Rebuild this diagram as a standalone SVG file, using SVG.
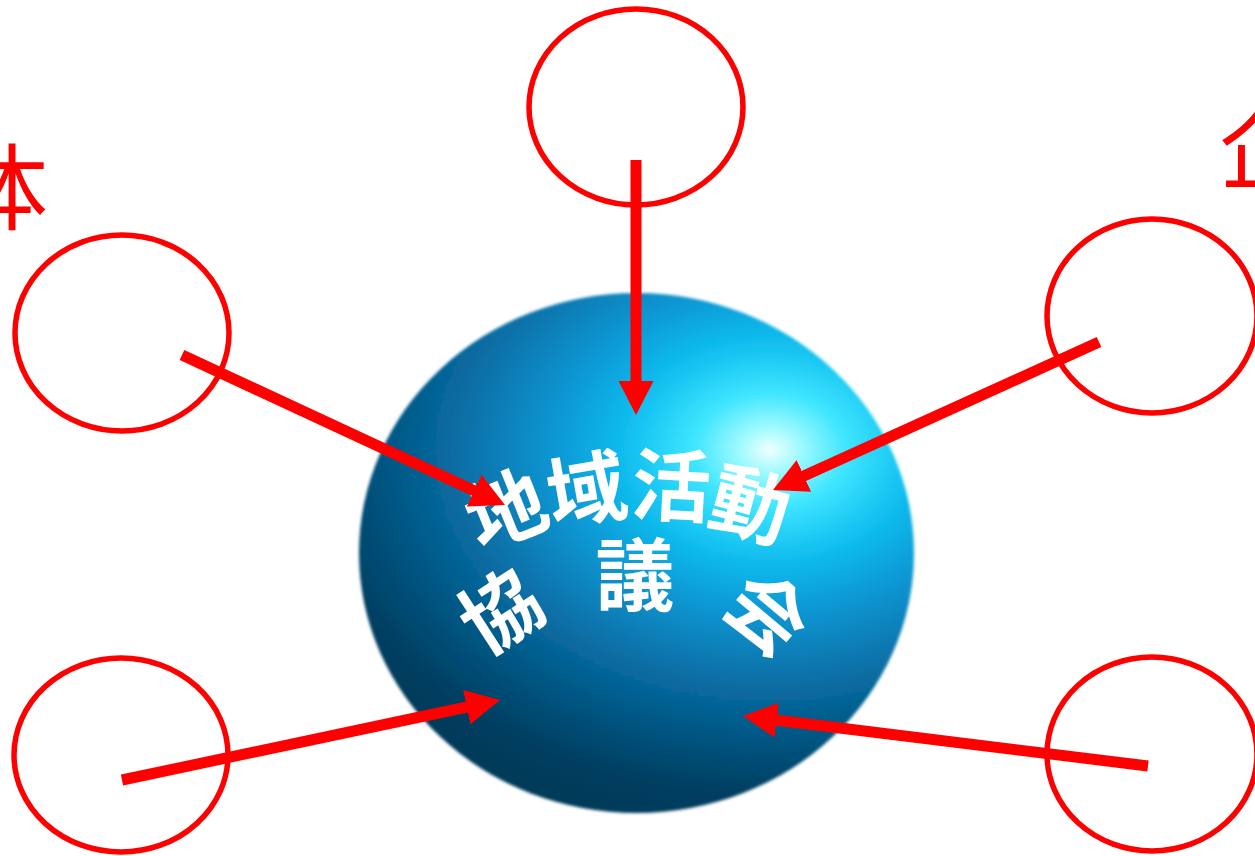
<svg xmlns="http://www.w3.org/2000/svg" width="1255" height="856" viewBox="0 0 1255 856">
  <style>
    .ring { fill: none; stroke: #ff0000; stroke-width: 5.5; }
    .link { fill: none; stroke: #ff0000; stroke-width: 11; marker-end: url(#head); }
    .core { font-family: "Noto Sans CJK JP", "Noto Sans CJK SC", sans-serif; font-weight: 700; font-size: 79px; fill: #ffffff; text-anchor: middle; }
    .side { font-family: "Noto Sans CJK JP", "Noto Sans CJK SC", sans-serif; font-weight: 400; font-size: 94px; fill: #ff0000; }
  </style>
  <defs>
    <!-- light source upper right, shading squashed vertically so the lower half darkens -->
    <radialGradient id="globe" gradientUnits="userSpaceOnUse" cx="770" cy="450" r="500" gradientTransform="translate(770,450) scale(1,0.75) translate(-770,-450)">
      <stop offset="0" stop-color="#f0ffff"/>
      <stop offset="0.06" stop-color="#a0faff"/>
      <stop offset="0.15" stop-color="#40e6ff"/>
      <stop offset="0.28" stop-color="#12c0f0"/>
      <stop offset="0.42" stop-color="#0a9ad6"/>
      <stop offset="0.6" stop-color="#0772aa"/>
      <stop offset="0.78" stop-color="#055480"/>
      <stop offset="0.92" stop-color="#043e60"/>
      <stop offset="1" stop-color="#043a5a"/>
    </radialGradient>
    <filter id="soft" x="-5%" y="-5%" width="110%" height="110%">
      <feGaussianBlur stdDeviation="1.5"/>
    </filter>
    <marker id="head" markerUnits="userSpaceOnUse" markerWidth="36" markerHeight="36" refX="22" refY="17.5" orient="auto">
      <path d="M0,0 L34,17.5 L0,35 Z" fill="#ff0000"/>
    </marker>
  </defs>

  <rect width="1255" height="856" fill="#ffffff"/>

  <!-- central sphere with its caption -->
  <g id="hub">
    <ellipse cx="636.5" cy="553" rx="277.5" ry="260" fill="url(#globe)" filter="url(#soft)"/>
    <text class="core" transform="translate(507,512) rotate(-22)" y="27">地</text>
    <text class="core" transform="translate(587,492) rotate(-10)" y="27">域</text>
    <text class="core" transform="translate(671,488) rotate(3)" y="27">活</text>
    <text class="core" transform="translate(750,507) rotate(15)" y="27">動</text>
    <text class="core" transform="translate(502,613) rotate(-33)" y="27">協</text>
    <text class="core" transform="translate(635,578)" y="27">議</text>
    <text class="core" transform="translate(766,615) rotate(40)" y="27">会</text>
  </g>

  <!-- surrounding members -->
  <g id="node-top"><ellipse class="ring" cx="636" cy="107" rx="107" ry="98"/></g>
  <g id="node-left-upper"><ellipse class="ring" cx="122" cy="333" rx="107" ry="98"/></g>
  <g id="node-right-upper"><ellipse class="ring" cx="1152" cy="316" rx="105" ry="97"/></g>
  <g id="node-left-lower"><ellipse class="ring" cx="121" cy="755" rx="107" ry="97"/></g>
  <g id="node-right-lower"><ellipse class="ring" cx="1152" cy="754" rx="105" ry="97"/></g>

  <!-- edge labels, partly outside the frame -->
  <g id="label-left"><text class="side" x="-46" y="223">体</text></g>
  <g id="label-right"><text class="side" x="1219" y="182">企</text></g>

  <!-- arrows pointing into the hub -->
  <g id="connectors">
    <line class="link" x1="636" y1="160" x2="636" y2="403"/>
    <line class="link" x1="182" y1="355" x2="494.1" y2="499.9"/>
    <line class="link" x1="1099" y1="342" x2="783.9" y2="485"/>
    <line class="link" x1="122" y1="780" x2="488.3" y2="702.5"/>
    <line class="link" x1="1148" y1="766" x2="754.9" y2="717.5"/>
  </g>
</svg>
